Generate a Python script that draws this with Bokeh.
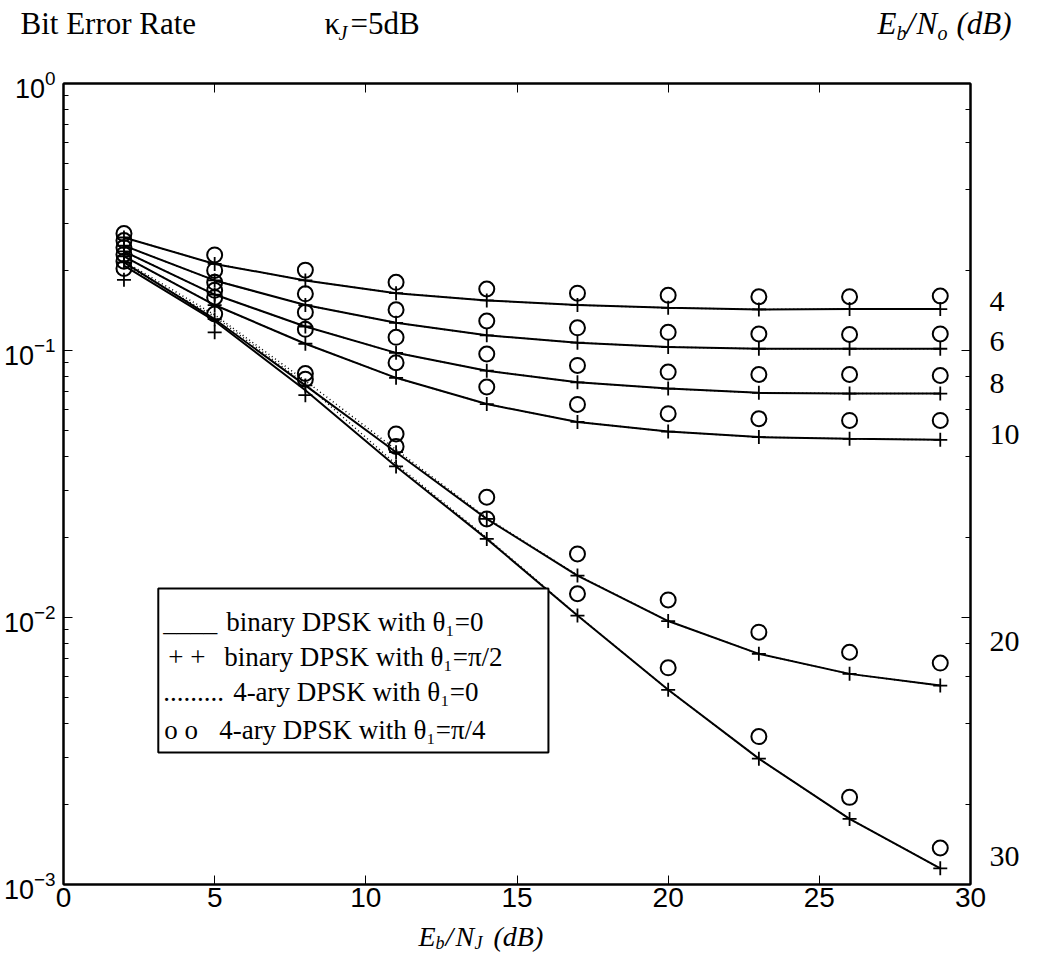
from bokeh.plotting import figure
from bokeh.layouts import column
from bokeh.models import (Label, BoxAnnotation, LinearAxis, LogAxis, FixedTicker,
                          LogTicker, CustomJSTickFormatter, Range1d)
from bokeh.embed import file_html
from bokeh.resources import INLINE

# ---------------- data ----------------
ebnj_db = [2, 5, 8, 11, 14, 17, 20, 23, 26, 29]
ebno_labels = ["4", "6", "8", "10", "20", "30"]

# binary DPSK, theta1 = 0 (solid lines)
bin0_04 = [0.265, 0.211, 0.183, 0.164, 0.154, 0.148, 0.1445, 0.1425, 0.143, 0.143]
bin0_06 = [0.247, 0.183, 0.148, 0.127, 0.114, 0.107, 0.103, 0.1015, 0.1015, 0.1015]
bin0_08 = [0.235, 0.162, 0.123, 0.098, 0.084, 0.076, 0.072, 0.0694, 0.069, 0.069]
bin0_10 = [0.225, 0.148, 0.106, 0.079, 0.063, 0.054, 0.0497, 0.0474, 0.0467, 0.0463]
bin0_20 = [0.214, 0.131, 0.074, 0.0416, 0.0234, 0.01436, 0.0097, 0.00731, 0.00615, 0.00556]
bin0_30 = [0.208, 0.129, 0.071, 0.0368, 0.0197, 0.01017, 0.00536, 0.00296, 0.00176, 0.00115]

# binary DPSK, theta1 = pi/2 (+ markers)
binpi2_04 = [0.265, 0.211, 0.183, 0.164, 0.154, 0.148, 0.1445, 0.1425, 0.143, 0.143]
binpi2_06 = [0.247, 0.183, 0.148, 0.127, 0.114, 0.107, 0.103, 0.1015, 0.1015, 0.1015]
binpi2_08 = [0.235, 0.162, 0.123, 0.098, 0.084, 0.076, 0.072, 0.0694, 0.069, 0.069]
binpi2_10 = [0.225, 0.148, 0.106, 0.079, 0.063, 0.054, 0.0497, 0.0474, 0.0467, 0.0463]
binpi2_20 = [0.214, 0.131, 0.074, 0.0416, 0.0234, 0.01436, 0.0097, 0.00731, 0.00615, 0.00556]
binpi2_30 = [0.184, 0.117, 0.068, 0.0368, 0.0197, 0.01017, 0.00536, 0.00296, 0.00176, 0.00115]

# 4-ary DPSK, theta1 = 0 (dotted lines)
q0_04 = [0.265, 0.211, 0.183, 0.164, 0.154, 0.148, 0.1445, 0.1425, 0.143, 0.143]
q0_06 = [0.247, 0.183, 0.148, 0.127, 0.114, 0.107, 0.103, 0.1015, 0.1015, 0.1015]
q0_08 = [0.235, 0.162, 0.123, 0.098, 0.084, 0.076, 0.072, 0.0694, 0.069, 0.069]
q0_10 = [0.225, 0.148, 0.106, 0.079, 0.063, 0.054, 0.0497, 0.0474, 0.0467, 0.0463]
q0_20 = [0.216, 0.136, 0.077, 0.0425, 0.0236, 0.0144, 0.0097, 0.00731, 0.00615, 0.00556]
q0_30 = [0.210, 0.134, 0.075, 0.0375, 0.0199, 0.0102, 0.00536, 0.00296, 0.00176, 0.00115]

# 4-ary DPSK, theta1 = pi/4 (o markers)
qpi4_04 = [0.274, 0.228, 0.200, 0.180, 0.170, 0.164, 0.161, 0.159, 0.159, 0.160]
qpi4_06 = [0.258, 0.1995, 0.163, 0.142, 0.129, 0.1216, 0.117, 0.1154, 0.1148, 0.1154]
qpi4_08 = [0.243, 0.180, 0.139, 0.112, 0.097, 0.0879, 0.083, 0.0813, 0.0813, 0.0806]
qpi4_10 = [0.229, 0.168, 0.120, 0.090, 0.073, 0.0628, 0.058, 0.0555, 0.0547, 0.0547]
qpi4_20 = [0.216, 0.158, 0.082, 0.0487, 0.0282, 0.0173, 0.01164, 0.00881, 0.00741, 0.00675]
qpi4_30 = [0.203, 0.137, 0.078, 0.0437, 0.0234, 0.01227, 0.00648, 0.00358, 0.00212, 0.00137]

bin0 = [bin0_04, bin0_06, bin0_08, bin0_10, bin0_20, bin0_30]
binpi2 = [binpi2_04, binpi2_06, binpi2_08, binpi2_10, binpi2_20, binpi2_30]
q0 = [q0_04, q0_06, q0_08, q0_10, q0_20, q0_30]
qpi4 = [qpi4_04, qpi4_06, qpi4_08, qpi4_10, qpi4_20, qpi4_30]

# ---------------- layout (pixels, page coordinates) ----------------
W, H = 1064, 954
HEAD_H = 60           # header strip height
FOOT_TOP = 920        # footer strip starts here
FL, FR, FT, FB = 61, 970, 83, 884   # axes box on the page
XMIN, XMAX = 0, 30
YDEC = 3  # decades 1e-3 .. 1e0


def dx(px):
    return XMIN + (px - FL) / (FR - FL) * (XMAX - XMIN)


def dy(py):
    return 10 ** (-(py - FT) / (FB - FT) * YDEC)


SERIF = "Liberation Serif"
SANS = "Liberation Sans Narrow, Liberation Sans, sans-serif"


def no_align(fig):
    try:
        fig.frame_align = False
    except Exception:
        pass


def strip(height, top):
    f = figure(width=W, height=height, x_range=Range1d(0, W),
               y_range=Range1d(top + height, top), output_backend="svg",
               toolbar_location=None, x_axis_location=None, y_axis_location=None,
               min_border=0, min_border_left=0, min_border_right=0,
               min_border_top=0, min_border_bottom=0)
    f.xgrid.visible = False
    f.ygrid.visible = False
    f.outline_line_color = None
    f.background_fill_color = "white"
    f.border_fill_color = "white"
    no_align(f)
    return f


def lab(fig, text, x, y, size=30, font=SERIF, style="normal", align="left"):
    fig.add_layout(Label(x=x, y=y, text=text, text_font=font,
                         text_font_size=f"{size}px", text_font_style=style,
                         text_align=align, text_baseline="middle",
                         text_color="black"))


# ---------------- header ----------------
head = strip(HEAD_H, 0)
lab(head, "Bit Error Rate", 20, 23, 31)
lab(head, "κ", 324, 23, 31)
lab(head, "J", 338, 32, 20, style="italic")
lab(head, "=5dB", 350, 23, 31)
lab(head, "E", 877, 23, 31, style="italic")
lab(head, "b", 896, 32, 20, style="italic")
lab(head, "/", 906, 23, 31, style="italic")
lab(head, "N", 916, 23, 31, style="italic")
lab(head, "o", 937, 32, 20, style="italic")
lab(head, "(dB)", 956, 23, 31, style="italic")

# ---------------- main plot ----------------
p = figure(width=W, height=FOOT_TOP - HEAD_H, x_range=(XMIN, XMAX), y_range=(1e-3, 1),
           y_axis_type="log", output_backend="svg", toolbar_location=None,
           min_border_left=FL, min_border_right=W - FR,
           min_border_top=FT - HEAD_H, min_border_bottom=FOOT_TOP - FB)
no_align(p)
p.xgrid.visible = False
p.ygrid.visible = False
p.outline_line_color = "black"
p.outline_line_width = 2
p.background_fill_color = "white"
p.border_fill_color = "white"

xt = FixedTicker(ticks=[0, 5, 10, 15, 20, 25, 30])
for ax in p.xaxis:
    ax.ticker = xt
    ax.major_tick_in = 9
    ax.major_tick_out = 0
    ax.minor_tick_in = 0
    ax.minor_tick_out = 0
    ax.axis_line_color = "black"
    ax.axis_line_width = 2
    ax.major_label_text_font = SANS
    ax.major_label_text_font_size = "28px"
    ax.major_label_text_color = "black"
    ax.major_label_standoff = 3
for ax in p.yaxis:
    ax.major_tick_in = 9
    ax.major_tick_out = 0
    ax.minor_tick_in = 5
    ax.minor_tick_out = 0
    ax.axis_line_color = "black"
    ax.axis_line_width = 2
    ax.major_label_text_font = SANS
    ax.major_label_text_font_size = "27px"
    ax.major_label_text_color = "black"
    ax.major_label_standoff = 8

blank = CustomJSTickFormatter(code="return '';")
top_ax = LinearAxis(ticker=xt, major_tick_in=9, major_tick_out=0, minor_tick_in=0,
                    minor_tick_out=0, formatter=blank,
                    major_label_standoff=0, axis_line_width=2)
p.add_layout(top_ax, "above")
right_ax = LogAxis(ticker=LogTicker(), major_tick_in=9, major_tick_out=0, minor_tick_in=5,
                   minor_tick_out=0, formatter=blank,
                   major_label_standoff=0, axis_line_width=2)
p.add_layout(right_ax, "right")

# Eb/No curve labels on the right, as a tick-less axis
right_label_py = [301, 341, 383, 434, 641, 856]
right_label_vals = [dy(v) for v in right_label_py]
curve_fmt = CustomJSTickFormatter(
    args=dict(vals=right_label_vals, labs=ebno_labels),
    code="""
    let best = 0, bd = 1e9;
    for (let i = 0; i < vals.length; i++) {
      const d = Math.abs(Math.log(tick) - Math.log(vals[i]));
      if (d < bd) { bd = d; best = i; }
    }
    return labs[best];
    """)
curve_ax = LogAxis(ticker=FixedTicker(ticks=sorted(right_label_vals)),
                   formatter=curve_fmt, major_tick_in=0, major_tick_out=0,
                   minor_tick_in=0, minor_tick_out=0, axis_line_color=None,
                   major_label_standoff=19, major_label_text_font=SERIF,
                   major_label_text_font_size="30px", major_label_text_color="black")
p.add_layout(curve_ax, "right")

# data glyphs
for i in range(6):
    p.line(ebnj_db, bin0[i], line_color="black", line_width=2)
    p.line(ebnj_db, q0[i], line_color="black", line_width=1.5, line_dash="1 3")
    p.scatter(ebnj_db, binpi2[i], marker="cross", size=14, line_color="black",
              line_width=1.8)
    p.scatter(ebnj_db, qpi4[i], marker="circle", size=15, line_color="black",
              fill_color=None, line_width=2)

# legend box
p.add_layout(BoxAnnotation(left=dx(156), right=dx(547), top=dy(588), bottom=dy(752),
                           fill_color="white", fill_alpha=1.0, line_color="black",
                           line_alpha=1.0, line_width=2))
legend_texts = ["binary DPSK with θ₁=0", "binary DPSK with θ₁=π/2",
                "4-ary DPSK with θ₁=0", "4-ary DPSK with θ₁=π/4"]
legend_samples = ["____", "+ +", ".........", "o  o"]
legend_row_py = [621, 656, 691, 729]
sample_px = [161, 166, 161, 162]
text_px = [224, 222, 231, 217]
for s, t, py, spx, tpx in zip(legend_samples, legend_texts, legend_row_py, sample_px, text_px):
    lab(p, s, dx(spx), dy(py), 27)
    lab(p, t, dx(tpx), dy(py), 27)

# ---------------- footer (x axis title) ----------------
foot = strip(H - FOOT_TOP, FOOT_TOP)
lab(foot, "E", 418, 936, 28, style="italic")
lab(foot, "b", 435, 942, 18, style="italic")
lab(foot, "/", 445, 936, 28, style="italic")
lab(foot, "N", 455, 936, 28, style="italic")
lab(foot, "J", 474, 942, 18, style="italic")
lab(foot, "(dB)", 493, 936, 28, style="italic")

layout = column(head, p, foot, spacing=0)
open("out.html", "w").write(file_html(layout, INLINE))
